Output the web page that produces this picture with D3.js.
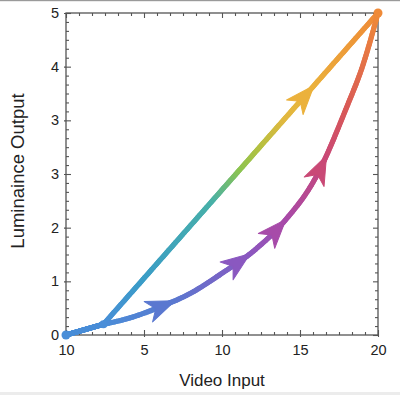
<!DOCTYPE html>
<html><head><meta charset="utf-8">
<script src="https://cdn.jsdelivr.net/npm/d3@7"></script>
<style>html,body{margin:0;padding:0;background:#fff;} svg{display:block;}</style>
</head><body><svg id="c" width="400" height="395"></svg>
<script>
const xTickValues = [0, 5, 10, 15, 20];
const xTickLabels = ["10", "5", "10", "15", "20"];
const yTickValues = [0, 1, 2, 3, 4, 5, 6];
const yTickLabels = ["0", "1", "2", "3", "3", "4", "5"];
const baseX = [0, 2.4];
const baseY = [0, 0.2];
const straightX = [2.4, 20];
const straightY = [0.2, 6];
const curveX = [2.4, 4, 6, 8, 10, 12, 14, 16, 18, 19, 20];
const curveY = [0.2, 0.31, 0.52, 0.78, 1.15, 1.56, 2.12, 2.93, 4.25, 5.0, 6.0];
const dotX = [0, 2.4, 20];
const dotY = [0, 0.2, 6];
const dotColors = ["#4a8ed8", "#4a8ed8", "#ef8a38"];
const straightArrowX = [15.9];
const curveArrowX = [7.0, 11.8, 14.1, 16.7];
const straightStops = [0, 0.14, 0.40, 0.50, 0.58, 0.66, 0.74, 1];
const straightColors = ["#4a8ed8", "#3a9cc8", "#48b0a8", "#8cc450", "#b8c040", "#e0b840", "#eab53c", "#ef8a38"];
const curveStops = [0, 0.17, 0.37, 0.49, 0.65, 0.77, 1];
const curveColors = ["#4a8ed8", "#5a78d0", "#8a58c0", "#a84aa8", "#c84878", "#d85858", "#ef8a38"];
const baseColor = "#4a8ed8";

const svg = d3.select("#c");
const x = d3.scaleLinear().domain([0, 20]).range([66, 378]);
const y = d3.scaleLinear().domain([0, 6]).range([335, 13]);
const FONT = "'Liberation Sans', Arial, Helvetica, sans-serif";

// page borders
svg.append("rect").attr("x", 0).attr("y", 0).attr("width", 400).attr("height", 1.2).attr("fill", "#9a9a9a");
svg.append("rect").attr("x", 0).attr("y", 392).attr("width", 400).attr("height", 3).attr("fill", "#ececec");

// minor tick values
const xMinor = d3.range(0, 25).map(i => i * 20 / 24).filter((v, i) => i % 6 !== 0);
const yMinor = d3.range(0, 37).map(i => i / 6).filter((v, i) => i % 6 !== 0);

function styleAxis(g) {
  g.select(".domain").remove();
  g.selectAll(".tick line").attr("stroke", "#555").attr("stroke-width", 1.1);
  g.selectAll("text").attr("font-family", FONT).attr("font-size", 14.5).attr("fill", "#222");
}

// bottom labels + outward stubs
svg.append("g").attr("transform", "translate(0,335)")
  .call(d3.axisBottom(x).tickValues(xTickValues).tickFormat((d, i) => xTickLabels[i]).tickSize(2).tickPadding(8))
  .call(styleAxis);
svg.append("g").attr("transform", "translate(0,335)")
  .call(d3.axisBottom(x).tickValues(xTickValues).tickFormat("").tickSize(-5)).call(styleAxis);
svg.append("g").attr("transform", "translate(0,335)")
  .call(d3.axisBottom(x).tickValues(xMinor).tickFormat("").tickSize(-3)).call(styleAxis);
// top
svg.append("g").attr("transform", "translate(0,13)")
  .call(d3.axisTop(x).tickValues(xTickValues).tickFormat("").tickSize(-5)).call(styleAxis);
svg.append("g").attr("transform", "translate(0,13)")
  .call(d3.axisTop(x).tickValues(xMinor).tickFormat("").tickSize(-3)).call(styleAxis);
// left
svg.append("g").attr("transform", "translate(66,0)")
  .call(d3.axisLeft(y).tickValues(yTickValues).tickFormat((d, i) => yTickLabels[i]).tickSize(2).tickPadding(5))
  .call(styleAxis);
svg.append("g").attr("transform", "translate(66,0)")
  .call(d3.axisLeft(y).tickValues(yTickValues).tickFormat("").tickSize(-5)).call(styleAxis);
svg.append("g").attr("transform", "translate(66,0)")
  .call(d3.axisLeft(y).tickValues(yMinor).tickFormat("").tickSize(-3)).call(styleAxis);
// right
svg.append("g").attr("transform", "translate(378,0)")
  .call(d3.axisRight(y).tickValues(yTickValues).tickFormat("").tickSize(-5)).call(styleAxis);
svg.append("g").attr("transform", "translate(378,0)")
  .call(d3.axisRight(y).tickValues(yMinor).tickFormat("").tickSize(-3)).call(styleAxis);

// frame
svg.append("rect").attr("x", x(0)).attr("y", y(6)).attr("width", x(20) - x(0)).attr("height", y(0) - y(6))
  .attr("fill", "none").attr("stroke", "#555").attr("stroke-width", 1.3);

// axis titles
svg.append("text").attr("x", 222).attr("y", 386).attr("text-anchor", "middle")
  .attr("font-family", FONT).attr("font-size", 17).attr("fill", "#222").text("Video Input");
svg.append("text").attr("transform", "translate(24,171) rotate(-90)").attr("text-anchor", "middle")
  .attr("font-family", FONT).attr("font-size", 18.5).attr("fill", "#222").text("Luminaince Output");

// gradient-stroked paths
function drawGradientPath(xs, ys, stops, colors, curve, arrowsX) {
  const pts = xs.map((v, i) => [v, ys[i]]);
  const line = d3.line().x(d => x(d[0])).y(d => y(d[1])).curve(curve);
  const p = svg.append("path").attr("d", line(pts)).attr("fill", "none").attr("stroke", "none");
  const node = p.node();
  const L = node.getTotalLength();
  const cs = d3.scaleLinear().domain(stops).range(colors).interpolate(d3.interpolateRgb);
  const N = 160;
  const g = svg.append("g");
  for (let i = 0; i < N; i++) {
    const a = node.getPointAtLength(L * i / N), b = node.getPointAtLength(L * (i + 1) / N);
    g.append("line").attr("x1", a.x).attr("y1", a.y).attr("x2", b.x).attr("y2", b.y)
      .attr("stroke", cs((i + 0.5) / N)).attr("stroke-width", 5.2).attr("stroke-linecap", "round");
  }
  (arrowsX || []).forEach(ax => {
    const target = x(ax);
    let lo = 0, hi = L;
    for (let k = 0; k < 40; k++) { const mid = (lo + hi) / 2; if (node.getPointAtLength(mid).x < target) lo = mid; else hi = mid; }
    const l = lo;
    const tip = node.getPointAtLength(l);
    const back = node.getPointAtLength(Math.max(0, l - 16));
    const ang = Math.atan2(tip.y - back.y, tip.x - back.x) * 180 / Math.PI;
    g.append("path").attr("d", "M0,0 L-29,-11 L-21,0 L-29,11 Z")
      .attr("transform", `translate(${tip.x},${tip.y}) rotate(${ang})`)
      .attr("fill", cs(l / L)).attr("stroke", cs(l / L)).attr("stroke-width", 1).attr("stroke-linejoin", "round");
  });
}

drawGradientPath(baseX, baseY, [0, 1], [baseColor, baseColor], d3.curveLinear, []);
drawGradientPath(straightX, straightY, straightStops, straightColors, d3.curveLinear, straightArrowX);
drawGradientPath(curveX, curveY, curveStops, curveColors, d3.curveMonotoneX, curveArrowX);

svg.append("g").selectAll("circle").data(dotX).join("circle")
  .attr("cx", d => x(d)).attr("cy", (d, i) => y(dotY[i])).attr("r", (d, i) => i === 1 ? 4 : 4.5)
  .attr("fill", (d, i) => dotColors[i]);
</script></body></html>
